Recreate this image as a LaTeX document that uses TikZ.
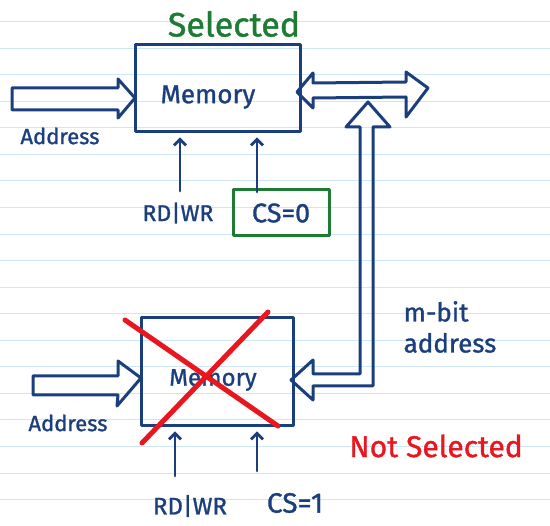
\documentclass[tikz,border=0pt]{standalone}
\usepackage{fontspec}
\setmainfont{Fira Sans}[FakeBold=1.2]
\usetikzlibrary{arrows.meta}
\definecolor{ink}{HTML}{1B3F7D}
\definecolor{inkgreen}{HTML}{1E7B34}
\definecolor{inkred}{HTML}{E8161E}
\definecolor{paperrule}{HTML}{CFE6F7}
\begin{document}
\begin{tikzpicture}[x=1pt,y=-1pt,line join=round,line cap=round,
  membox/.style={draw=ink,line width=3pt,inner sep=0pt},
  bus/.style={draw=ink,line width=3pt},
  sig/.style={ink,line width=2.8pt,-{Straight Barb[length=6pt,width=12pt]},shorten >=4pt},
  lbl/.style={ink,inner sep=1pt}]
\useasboundingbox (0,0) rectangle (550,526);
% ruled paper
\foreach \k in {0,...,18} \draw[paperrule,line width=1pt] (0,{21.7+26.55*\k})--(550,{21.7+26.55*\k});
% selected chip
\node[membox,minimum width=165pt,minimum height=87pt] (mem1) at (217.5,88.5) {};
\node[lbl,font=\fontsize{26}{30}\selectfont] (txt1) at (208,97) {Memory};
\node[inkgreen,font=\fontsize{34}{36}\selectfont] (sel) at (234,24) {Selected};
\draw[bus] (12,88)--(118,88)--(118,79)--(135,98)--(118,118)--(118,110)--(12,110)--cycle;
\node[lbl,font=\fontsize{22}{24}\selectfont] (adr1) at (60,136) {Address};
\draw[bus] (297,92)--(313,73)--(313,83)--(406,82)--(406,72)--(428,88)--(406,117)--(406,97)--(313,98)--(313,108)--cycle;
\node[lbl,font=\fontsize{23}{24}\selectfont] (rw1) at (178,213) {RD|WR};
\node[lbl,draw=inkgreen,line width=3pt,minimum width=96pt,minimum height=46pt,font=\fontsize{27}{30}\selectfont] (cs1) at (281,213) {CS=0};
\coordinate (rw1s) at (180,191);
\coordinate (cs1s) at (257,192);
\draw[sig] (rw1s)--(rw1s|-mem1.south);
\draw[sig] (cs1s)--(cs1s|-mem1.south);
% shared address bus
\draw[bus] (368,102)--(390,127)--(373,127)--(373,386)--(313,386)--(313,400)--(291,380)--(313,360)--(313,374)--(360,374)--(360,127)--(346,127)--cycle;
\node[lbl,align=left,font=\fontsize{26}{31}\selectfont] (mbit) at (450,327) {m-bit\\address};
% chip that is not selected
\node[membox,minimum width=152pt,minimum height=108pt] (mem2) at (217,372) {};
\node[lbl,font=\fontsize{24}{30}\selectfont] (txt2) at (213,380) {Memory};
\draw[bus] (33,376)--(118,376)--(118,361)--(141,378)--(117,406)--(118,395)--(33,395)--cycle;
\node[lbl,font=\fontsize{22}{24}\selectfont] (adr2) at (68,423) {Address};
\draw[inkred,line width=5pt] (125,320)--(278,426) (142,443)--(268,312);
\coordinate (rw2s) at (175,476);
\coordinate (cs2s) at (257,471);
\draw[sig] (rw2s)--(rw2s|-mem2.south);
\draw[sig] (cs2s)--(cs2s|-mem2.south);
\node[lbl,font=\fontsize{24}{24}\selectfont] (rw2) at (190,506) {RD|WR};
\node[lbl,font=\fontsize{28}{24}\selectfont] (cs2) at (295,503) {CS=1};
\node[inkred,font=\fontsize{30}{30}\selectfont] (nsel) at (436,446) {Not Selected};
\end{tikzpicture}
\end{document}
